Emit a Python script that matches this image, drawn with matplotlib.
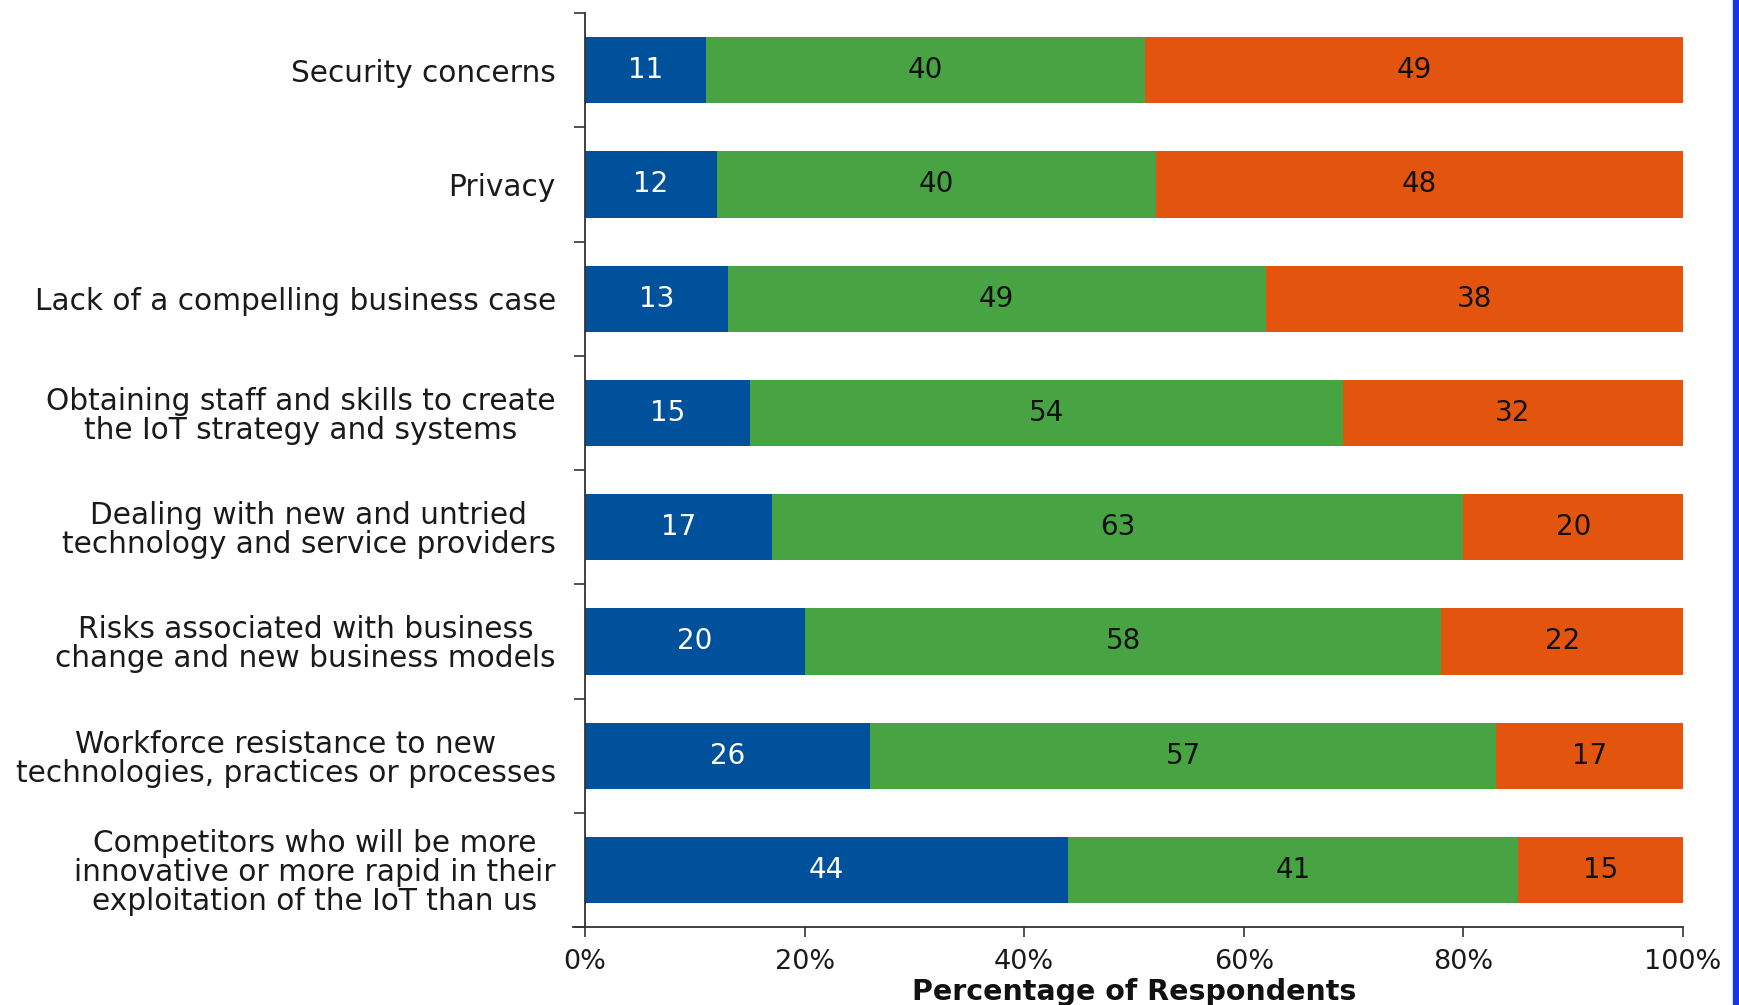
import matplotlib
matplotlib.use("Agg")
import matplotlib.pyplot as plt
from matplotlib.patches import Rectangle
from matplotlib.ticker import FixedLocator, PercentFormatter

categories = [
    "Security concerns",
    "Privacy",
    "Lack of a compelling business case",
    "Obtaining staff and skills to create\nthe IoT strategy and systems",
    "Dealing with new and untried\ntechnology and service providers",
    "Risks associated with business\nchange and new business models",
    "Workforce resistance to new\ntechnologies, practices or processes",
    "Competitors who will be more\ninnovative or more rapid in their\nexploitation of the IoT than us",
]
blue_vals = [11, 12, 13, 15, 17, 20, 26, 44]
green_vals = [40, 40, 49, 54, 63, 58, 57, 41]
orange_vals = [49, 48, 38, 32, 20, 22, 17, 15]

colors = ["#00519c", "#48a343", "#e3540f"]
text_colors = ["white", "#111111", "#111111"]

plt.rcParams['font.family'] = ['DejaVu Sans']

fig = plt.figure(figsize=(17.39, 10.05), dpi=100)
ax = fig.add_axes([0.3364, 0.0776, 0.6314, 0.9094])

ypos = list(range(len(categories)))
left = [0] * len(categories)
for vals, col, tc in zip([blue_vals, green_vals, orange_vals], colors, text_colors):
    bars = ax.barh(ypos, vals, left=left, height=0.58, color=col, edgecolor="none")
    ax.bar_label(bars, labels=[str(v) for v in vals], label_type="center",
                 color=tc, fontsize=20)
    left = [l + v for l, v in zip(left, vals)]

ax.set_xlim(0, 100)
ax.set_ylim(len(categories) - 0.5, -0.5)

ax.set_yticks(ypos)
ax.set_yticklabels(categories, fontsize=21.3, color="#1a1a1a",
                   multialignment="center", linespacing=1.0)
ax.yaxis.set_minor_locator(FixedLocator([i - 0.5 for i in range(len(categories) + 1)]))
ax.tick_params(axis="y", which="major", length=0, pad=21)
ax.tick_params(axis="y", which="minor", length=8, width=1.2, color="#333333")

ax.set_xticks([0, 20, 40, 60, 80, 100])
ax.xaxis.set_major_formatter(PercentFormatter(decimals=0))
ax.tick_params(axis="x", length=7, width=1.2, color="#333333", labelsize=19.5,
               labelcolor="#1a1a1a", pad=9)

for s in ["top", "right"]:
    ax.spines[s].set_visible(False)
for s in ["left", "bottom"]:
    ax.spines[s].set_color("#333333")
    ax.spines[s].set_linewidth(1.3)
# x axis line runs a little past the y axis, as in the original
ax.spines["bottom"].set_bounds(-1.1, 100)

fig.text(0.652, 0.013, "Percentage of Respondents", ha="center", va="center",
         fontsize=20.5, fontweight="bold", color="#111111")

# blue frame edge on the right
fig.patches.append(Rectangle((0.9967, 0), 0.0033, 1, transform=fig.transFigure,
                             color="#1238e8", zorder=5))

fig.savefig("out.png", dpi=100, facecolor="white")
